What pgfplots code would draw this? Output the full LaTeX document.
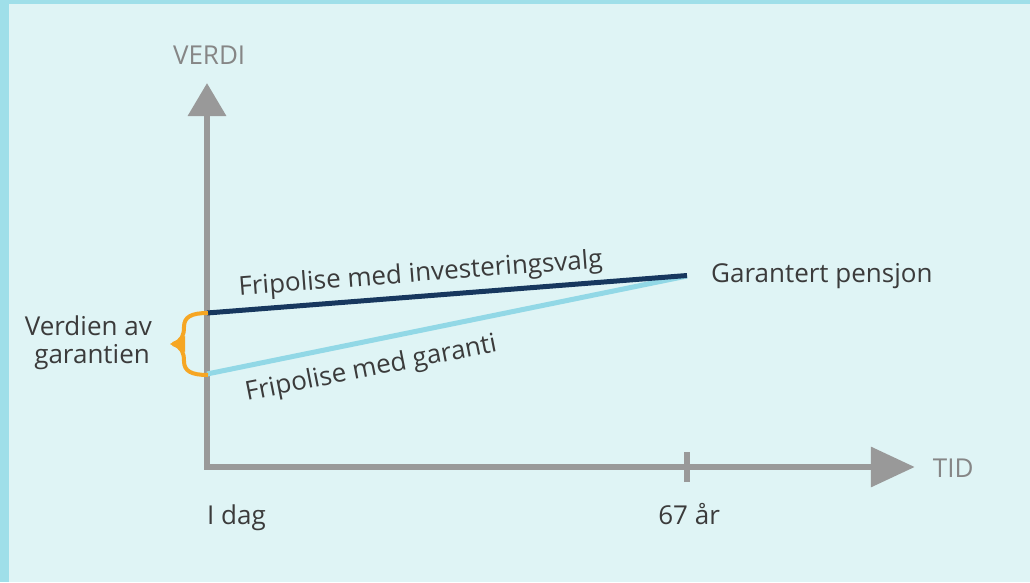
\documentclass[border=0pt]{standalone}
\usepackage{fontspec}
\setmainfont{Open Sans}
\usepackage{pgfplots}
\pgfplotsset{compat=1.18}
\usetikzlibrary{arrows.meta}

\definecolor{bgc}{HTML}{DFF4F5}
\definecolor{bord}{HTML}{9FDFE9}
\definecolor{axisgray}{HTML}{999999}
\definecolor{labgray}{HTML}{868686}
\definecolor{txt}{HTML}{3B3B3B}
\definecolor{navy}{HTML}{17375E}
\definecolor{lightblue}{HTML}{92D8E6}
\definecolor{brace}{HTML}{F6A623}

\begin{document}
\begin{tikzpicture}[font=\fontsize{26}{30}\selectfont]
% background and frame strips (1pt = 1px, origin = axis corner)
\fill[bgc] (-207pt,-115pt) rectangle (823pt,467pt);
\fill[bord] (-207pt,-115pt) rectangle (-198pt,467pt);
\fill[bord] (-207pt,463pt) rectangle (823pt,467pt);

\begin{axis}[
  at={(0,0)}, anchor=south west,
  x=7.1642pt, y=1pt,
  xmin=0, xmax=98.8, ymin=0, ymax=384,
  axis lines=left,
  axis line style={line width=6.5pt, axisgray, line cap=rect},
  x axis line style={-{Triangle[length=44pt,width=39pt]}},
  y axis line style={-{Triangle[length=33pt,width=37pt]}},
  xtick={67}, xticklabels={}, ytick=\empty,
  tick align=center, major tick length=30pt,
  xtick style={line width=6pt, axisgray},
  clip=false,
]
\addplot[lightblue, line width=5pt] coordinates {(0,93) (67,191)};
\addplot[navy, line width=5pt] coordinates {(0,154) (67,191.5)};

\node[txt, rotate=4.4, anchor=base] at (axis cs:29.9,185.5) {Fripolise med investeringsvalg};
\node[txt, rotate=11.2, anchor=base] at (axis cs:23.1,91) {Fripolise med garanti};
\node[txt, anchor=base west, inner sep=0pt] at (axis cs:70.35,185) {Garantert pensjon};
\node[txt, anchor=base] at (axis cs:67.3,-57) {67 år};
\node[txt, anchor=base west, inner sep=0pt] at (axis cs:0,-57) {I dag};
\node[labgray, anchor=base] at (axis cs:0.3,403) {VERDI};
\node[labgray, anchor=base west, inner sep=0pt] at (axis cs:101.3,-10) {TID};
\end{axis}

% brace marking the value of the guarantee
\draw[brace, line width=4pt, line join=round]
  (1pt,154pt) .. controls (-16pt,154pt) and (-23pt,150pt) .. (-23pt,140pt)
  .. controls (-23pt,132pt) and (-25pt,126pt) .. (-34pt,123pt);
\draw[brace, line width=4pt, line join=round]
  (1pt,92pt) .. controls (-16pt,92pt) and (-23pt,96pt) .. (-23pt,106pt)
  .. controls (-23pt,114pt) and (-25pt,120pt) .. (-34pt,123pt);
\fill[brace] (-37pt,123pt) -- (-22pt,131pt) -- (-22pt,115pt) -- cycle;
\node[txt, anchor=base east, inner sep=0pt] at (-55pt,132pt) {Verdien av};
\node[txt, anchor=base east, inner sep=0pt] at (-57pt,104pt) {garantien};

\pgfresetboundingbox
\path[use as bounding box] (-207pt,-115pt) rectangle (823pt,467pt);
\end{tikzpicture}
\end{document}
